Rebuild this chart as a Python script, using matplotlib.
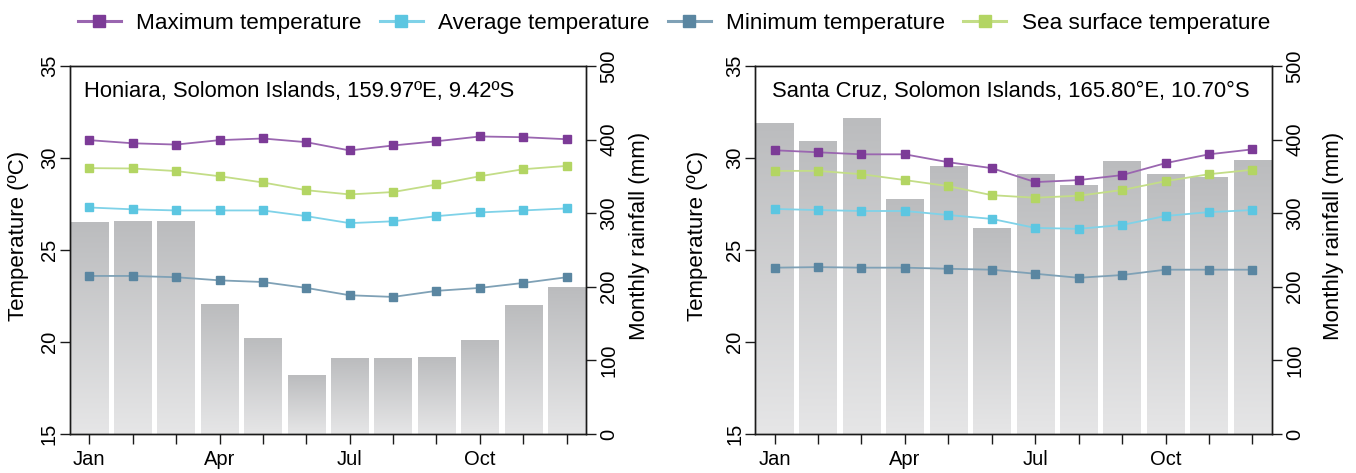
import matplotlib
matplotlib.use("Agg")
import matplotlib.pyplot as plt
import numpy as np
from matplotlib.lines import Line2D
from matplotlib.colors import LinearSegmentedColormap

plt.rcParams['font.family'] = ['Liberation Sans', 'DejaVu Sans']

months = ['Jan', 'Feb', 'Mar', 'Apr', 'May', 'Jun', 'Jul', 'Aug', 'Sep', 'Oct', 'Nov', 'Dec']
month_labels = ['Jan', '', '', 'Apr', '', '', 'Jul', '', '', 'Oct', '', '']

series_names = ['Maximum temperature', 'Average temperature',
                'Minimum temperature', 'Sea surface temperature']

# Honiara
hon_title = 'Honiara, Solomon Islands, 159.97ºE, 9.42ºS'
hon_rain = [287, 289, 289, 176, 130, 79, 103, 102, 104, 127, 174, 199]
hon_max = [30.97, 30.80, 30.73, 30.97, 31.06, 30.86, 30.41, 30.68, 30.91, 31.17, 31.13, 31.02]
hon_avg = [27.31, 27.21, 27.15, 27.15, 27.15, 26.84, 26.46, 26.56, 26.84, 27.04, 27.15, 27.26]
hon_min = [23.59, 23.59, 23.52, 23.35, 23.26, 22.94, 22.54, 22.45, 22.78, 22.94, 23.21, 23.52]
hon_sst = [29.45, 29.43, 29.29, 29.01, 28.67, 28.25, 28.02, 28.15, 28.56, 29.01, 29.39, 29.57]

# Santa Cruz
sc_title = 'Santa Cruz, Solomon Islands, 165.80°E, 10.70°S'
sc_rain = [422, 398, 429, 318, 364, 279, 352, 337, 370, 352, 349, 371]
sc_max = [30.42, 30.31, 30.20, 30.20, 29.77, 29.45, 28.69, 28.80, 29.07, 29.72, 30.20, 30.47]
sc_avg = [27.23, 27.17, 27.12, 27.12, 26.90, 26.69, 26.20, 26.15, 26.36, 26.85, 27.06, 27.17]
sc_min = [24.04, 24.07, 24.04, 24.04, 23.98, 23.93, 23.71, 23.49, 23.64, 23.93, 23.93, 23.93]
sc_sst = [29.30, 29.30, 29.12, 28.80, 28.47, 27.98, 27.84, 27.95, 28.26, 28.74, 29.12, 29.36]

temp_ticks = [15, 20, 25, 30, 35]
rain_ticks = [0, 100, 200, 300, 400, 500]

marker_colors = ['#7c3b97', '#5cc6e1', '#5a86a1', '#b3d563']
line_colors = ['#9a66b0', '#7fd2e8', '#7fa1b6', '#c3dd87']

W, H = 1356, 473
fig = plt.figure(figsize=(W / 100, H / 100), dpi=100)

grad_cmap = LinearSegmentedColormap.from_list('g', ['#e6e6e7', '#bbbcbe'])

TICK_FS = 14.5
LABEL_FS = 16
spine_lw = 1.0


def panel(rect, title, rain, series, ylab_x, rlab_x, title_x):
    axr = fig.add_axes(rect)
    axt = axr.twinx()
    x = np.arange(len(months))
    xlim = (-0.445, 11.445)

    # rainfall bars with vertical gradient
    bw = 0.86
    grad = np.linspace(0, 1, 256).reshape(-1, 1)
    for xi, h in zip(x, rain):
        axr.imshow(grad, extent=[xi - bw / 2, xi + bw / 2, 0, h], origin='lower',
                   aspect='auto', cmap=grad_cmap, zorder=1, interpolation='bicubic')
    axr.set_xlim(*xlim)
    axr.set_ylim(0, 500)
    axr.set_yticks(rain_ticks)
    axr.yaxis.tick_right()
    axr.yaxis.set_label_position('right')
    axr.set_ylabel('Monthly rainfall (mm)', fontsize=LABEL_FS)
    axr.yaxis.label.set_va('center')
    axr.yaxis.set_label_coords(rlab_x, 0.538)

    # temperature lines
    for vals, mc, lc in zip(series, marker_colors, line_colors):
        axt.plot(x, vals, color=lc, lw=1.3, zorder=3)
        axt.plot(x, vals, ls='none', marker='s', ms=6.2, color=mc, zorder=4)
    axt.set_ylim(15, 35)
    axt.set_yticks(temp_ticks)
    axt.yaxis.tick_left()
    axt.yaxis.set_label_position('left')
    axt.set_ylabel('Temperature (ºC)', fontsize=LABEL_FS)
    axt.yaxis.label.set_va('center')
    axt.yaxis.set_label_coords(ylab_x, 0.538)
    axt.set_xlim(*xlim)

    axr.set_xticks(x)
    axr.set_xticklabels(month_labels)

    for a in (axr, axt):
        for s in a.spines.values():
            s.set_linewidth(spine_lw)
            s.set_color('#1a1a1a')
        a.tick_params(length=7.2, width=1.0, color='#1a1a1a', labelsize=TICK_FS)
    axr.tick_params(axis='x', pad=4.5)
    axr.tick_params(axis='y', pad=2.5)
    axt.tick_params(axis='y', pad=0.8)

    for lab in axt.get_yticklabels():
        lab.set_rotation(90)
        lab.set_va('center')
    for lab in axr.get_yticklabels():
        lab.set_rotation(90)
        lab.set_va('center')

    axt.text(title_x, 0.9166, title, transform=axt.transAxes, fontsize=15.8,
             ha='left', va='baseline', zorder=5)
    return axr, axt


ax_h = panel([70 / W, (H - 434) / H, 516 / W, 368 / H], hon_title, hon_rain,
             [hon_max, hon_avg, hon_min, hon_sst],
             ylab_x=(19 - 70) / 516, rlab_x=(640 - 70) / 516, title_x=(84 - 70) / 516)
ax_s = panel([755.3 / W, (H - 434) / H, 516.4 / W, 368 / H], sc_title, sc_rain,
             [sc_max, sc_avg, sc_min, sc_sst],
             ylab_x=(698 - 755.3) / 516.4, rlab_x=(1333 - 755.3) / 516.4,
             title_x=(772 - 755.3) / 516.4)

handles = [Line2D([], [], color=lc, lw=2.2, marker='s', ms=8.5,
                  markerfacecolor=mc, markeredgecolor=mc)
           for mc, lc in zip(marker_colors, line_colors)]
fig.legend(handles, series_names, loc='center', ncol=4, frameon=False,
           bbox_to_anchor=(674 / W, 1 - 23 / H), fontsize=16.2,
           handlelength=1.9, handletextpad=0.7, columnspacing=0.8,
           borderaxespad=0, borderpad=0)

fig.savefig('out.png', dpi=100)
